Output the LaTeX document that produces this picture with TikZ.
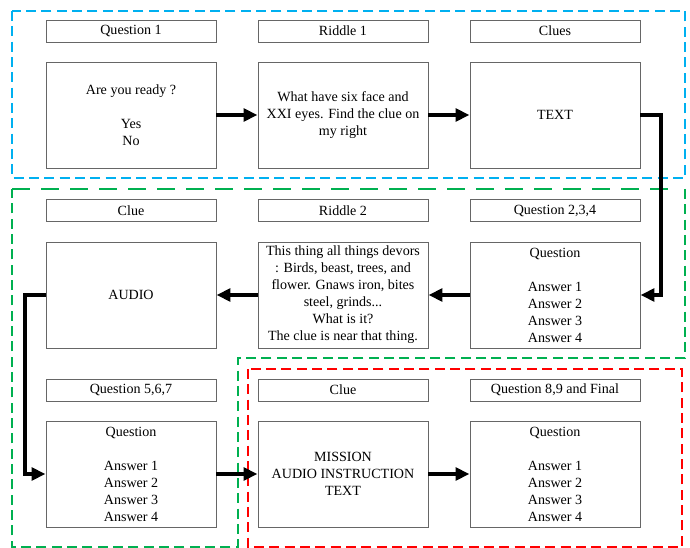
\documentclass[tikz,border=0pt]{standalone}
\usepackage{fontspec}
\setmainfont{Liberation Serif}
\usetikzlibrary{arrows.meta,positioning}
\definecolor{zoneblue}{RGB}{0,176,240}
\definecolor{zonegreen}{RGB}{0,176,80}
\definecolor{zonered}{RGB}{255,0,0}

\begin{document}
\begin{tikzpicture}[x=0.3mm,y=-0.3mm,
        titlebox/.style={draw=black!60, line width=0.8pt, minimum width=51mm, minimum height=6.6mm, inner sep=0pt, font=\fontsize{12}{14.5}\selectfont},
        mainbox/.style={draw=black!60, line width=0.8pt, minimum width=51mm, minimum height=31.8mm, inner sep=1pt, align=center, font=\fontsize{12}{14.5}\selectfont},
        flow/.style={line width=1.1mm, -{Triangle[length=4.2mm,width=3.8mm]}},
        zone/.style={line width=0.45mm, dash pattern=on 3mm off 1.6mm}]
    \useasboundingbox (0,0) rectangle (690,548);

    % Zones
    \draw[zone, zoneblue] (12,11) rectangle (685,178);
    \draw[zonegreen, line width=0.75mm, dash pattern=on 5.4mm off 3.3mm] (12,189) -- (672,189);
    \draw[zone, zonegreen] (685,189) -- (685,358) -- (238,358) -- (238,547) -- (12,547) -- (12,189);
    \draw[zone, zonered] (248,369) rectangle (682,547);

    % Row 1
    \node[titlebox] (q1title) at (131,31) {Question 1};
    \node[titlebox] (r1title) at (343,31) {Riddle 1};
    \node[titlebox] (cluestitle) at (555,31) {Clues};
    \node[mainbox] (q1box) at (131,115) {Are you ready ?\\[14.5pt] Yes\\ No};
    \node[mainbox] (r1box) at (343,115) {What have six face and\\ XXI eyes. Find the clue on\\ my right};
    \node[mainbox] (cluesbox) at (555,115) {TEXT};

    % Row 2
    \node[titlebox] (c2title) at (131,210.5) {Clue};
    \node[titlebox] (r2title) at (343,210.5) {Riddle 2};
    \node[titlebox] (q234title) at (555,210.5) {Question 2,3,4};
    \node[mainbox] (audiobox) at (131,295) {AUDIO};
    \node[mainbox] (r2box) at (343,295) {This thing all things devors\\ : Birds, beast, trees, and\\ flower. Gnaws iron, bites\\ steel, grinds...\\ What is it?\\ The clue is near that thing.};
    \node[mainbox] (q234box) at (555,295) {Question\\[14.5pt] Answer 1\\ Answer 2\\ Answer 3\\ Answer 4};

    % Row 3
    \node[titlebox] (q567title) at (131,390) {Question 5,6,7};
    \node[titlebox] (c3title) at (343,390) {Clue};
    \node[titlebox] (q89title) at (555,390) {Question 8,9 and Final};
    \node[mainbox] (q567box) at (131,474) {Question\\[14.5pt] Answer 1\\ Answer 2\\ Answer 3\\ Answer 4};
    \node[mainbox] (missionbox) at (343,474) {MISSION\\ AUDIO INSTRUCTION\\ TEXT};
    \node[mainbox] (q89box) at (555,474) {Question\\[14.5pt] Answer 1\\ Answer 2\\ Answer 3\\ Answer 4};

    % Turn points
    \coordinate (turnright) at (661,115);
    \coordinate (turnleft) at (25,295);

    % Arrows
    \draw[flow] (q1box) -- (r1box);
    \draw[flow] (r1box) -- (cluesbox);
    \draw[flow] (cluesbox.east) -- (turnright) |- (q234box.east);
    \draw[flow] (q234box) -- (r2box);
    \draw[flow] (r2box) -- (audiobox);
    \draw[flow] (audiobox.west) -- (turnleft) |- (q567box.west);
    \draw[flow] (q567box) -- (missionbox);
    \draw[flow] (missionbox) -- (q89box);
\end{tikzpicture}
\end{document}
